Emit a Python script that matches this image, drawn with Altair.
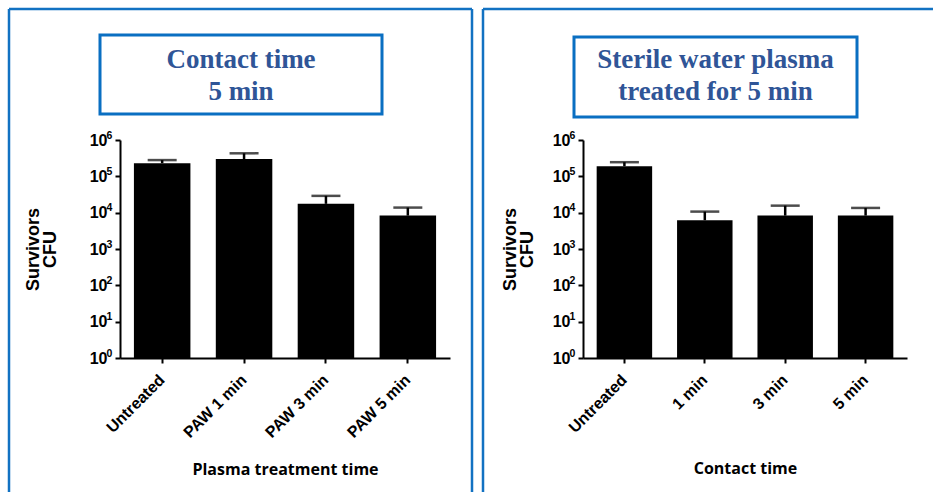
import altair as alt
import pandas as pd

# Contact time 5 min: PAW treated for different times
cats_a = ["Untreated", "PAW 1 min", "PAW 3 min", "PAW 5 min"]
mean_a = [2.3e5, 3.0e5, 1.75e4, 8.3e3]
upper_a = [2.8e5, 4.3e5, 2.9e4, 1.38e4]

# Sterile water plasma treated for 5 min, different contact times
cats_b = ["Untreated", "1 min", "3 min", "5 min"]
mean_b = [1.9e5, 6.2e3, 8.3e3, 8.3e3]
upper_b = [2.45e5, 1.07e4, 1.56e4, 1.35e4]

y_ticks = [1, 10, 100, 1e3, 1e4, 1e5, 1e6]
y_exps = ["0", "1", "2", "3", "4", "5", "6"]

BLUE = "#1272c2"
TITLE_BLUE = "#2f5597"
PLOT_H = 218
LABEL_PAD = 8


def panel(cats, mean, upper, width, xtitle, title_lines, box, frame, ytitle_x, xtitle_y):
    df = pd.DataFrame({"cat": cats, "mean": mean, "upper": upper})
    base = alt.Chart(df)
    x = alt.X(
        "cat:N",
        sort=cats,
        scale=alt.Scale(paddingInner=0.31, paddingOuter=0.17),
        axis=alt.Axis(
            title=xtitle,
            labelAngle=-45,
            labelAlign="right",
            labelBaseline="middle",
            labelFont="Liberation Sans",
            labelFontWeight="bold",
            labelFontSize=16,
            labelColor="black",
            labelPadding=14,
            tickSize=5,
            tickWidth=2,
            tickColor="black",
            domainColor="black",
            domainWidth=2,
            titleFont="Open Sans",
            titleFontWeight="bold",
            titleFontSize=16,
            titleColor="black",
            titleBaseline="middle",
            titleY=xtitle_y,
        ),
    )
    yscale = alt.Scale(type="log", domain=[1, 1e6], nice=False)
    yaxis = alt.Axis(
        title=["Survivors", "CFU"],
        values=y_ticks,
        labelExpr='"10"',
        labelFont="Liberation Sans",
        labelFontWeight="bold",
        labelFontSize=16,
        labelColor="black",
        labelPadding=LABEL_PAD,
        tickSize=5,
        tickWidth=2,
        tickColor="black",
        domainColor="black",
        domainWidth=2,
        grid=False,
        titleFont="Liberation Sans",
        titleFontWeight="bold",
        titleFontSize=18,
        titleLineHeight=17,
        titleColor="black",
        titleAngle=-90,
        titleAlign="center",
        titleBaseline="middle",
        titleX=ytitle_x,
        titleY=PLOT_H / 2,
    )

    bars = base.mark_bar(color="black").encode(
        x=x, y=alt.Y("mean:Q", scale=yscale, axis=yaxis), y2=alt.datum(1)
    )
    stems = base.mark_rule(color="black", strokeWidth=2.5).encode(
        x=alt.X("cat:N", sort=cats), y="mean:Q", y2="upper:Q"
    )
    caps = base.mark_tick(color="black", size=29, thickness=2.5).encode(
        x=alt.X("cat:N", sort=cats), y="upper:Q"
    )

    # power-of-ten exponents drawn as superscripts next to the "10" labels
    exps = alt.Chart(pd.DataFrame({"v": y_ticks, "e": y_exps})).mark_text(
        font="Liberation Sans", fontWeight="bold", fontSize=10.5, color="black",
        align="left", baseline="alphabetic", dy=-1.5,
    ).encode(x=alt.value(-5 - LABEL_PAD - 0.5), y="v:Q", text="e:N")

    one = alt.Chart(pd.DataFrame({"k": [0]}))
    layers = [bars, stems, caps, exps]

    # panel frame lines
    fx1, fx2, fy1, fy2, right_edge = frame
    layers.append(one.mark_rule(color=BLUE, strokeWidth=2.5).encode(
        x=alt.value(fx1), x2=alt.value(fx2), y=alt.value(fy1)))
    layers.append(one.mark_rule(color=BLUE, strokeWidth=2.5).encode(
        x=alt.value(fx1), y=alt.value(fy1), y2=alt.value(fy2)))
    if right_edge:
        layers.append(one.mark_rule(color=BLUE, strokeWidth=2.5).encode(
            x=alt.value(fx2), y=alt.value(fy1), y2=alt.value(fy2)))

    # boxed heading
    bx1, bx2, by1, by2 = box
    layers.append(one.mark_rect(fill="white", stroke="#0a6fc2", strokeWidth=3).encode(
        x=alt.value(bx1), x2=alt.value(bx2), y=alt.value(by1), y2=alt.value(by2)))
    layers.append(one.mark_text(
        text=title_lines, font="Liberation Serif", fontSize=27, fontWeight="bold",
        color=TITLE_BLUE, align="center", baseline="alphabetic", lineHeight=32,
    ).encode(x=alt.value((bx1 + bx2) / 2), y=alt.value(-72)))

    return alt.layer(*layers).properties(width=width, height=PLOT_H)


left = panel(
    cats_a, mean_a, upper_a, 330, "Plasma treatment time",
    ["Contact time", "5 min"],
    (-20, 262, -105, -26),
    (-111, 352, -131, 352, True),
    -87, 111,
)
right = panel(
    cats_b, mean_b, upper_b, 324, "Contact time",
    ["Sterile water plasma", "treated for 5 min"],
    (-9, 274, -103, -23),
    (-100, 350, -131, 352, False),
    -73, 110,
)

chart = alt.hconcat(left, right, spacing=7).properties(
    padding={"left": 7, "top": 7, "right": 0, "bottom": 0},
    background="white",
).configure_view(stroke=None)

chart.save("out.html", embed_options={"renderer": "svg", "actions": False})
